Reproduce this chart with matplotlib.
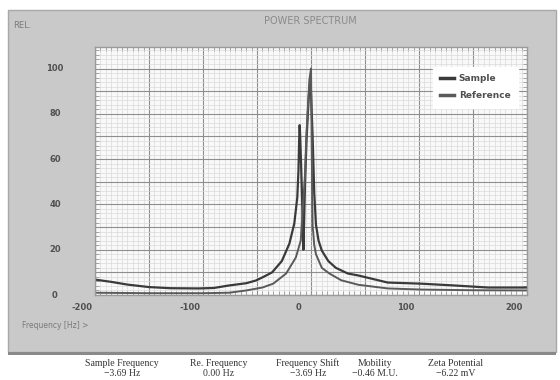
import matplotlib
matplotlib.use("Agg")
import matplotlib.pyplot as plt
from matplotlib.patches import Rectangle
from matplotlib.transforms import ScaledTranslation, blended_transform_factory
import numpy as np

# ---- data ----
sample_freq = [-200, -185, -170, -150, -130, -104, -90, -76, -60, -51, -44, -36, -27, -20,
               -15.5, -12.7, -11.6, -11, -10.5, -10, -9, -8, -7, -5.5, -4, -2, -0.5, 1.5,
               3, 4.6, 7, 10, 16, 23, 34, 44, 71, 102, 133, 164, 200]
sample_power = [6.8, 5.8, 4.6, 3.5, 3.0, 2.9, 3.1, 4.2, 5.2, 6.4, 8.0, 10, 15, 22.7,
                31.5, 43, 55, 68, 75, 70, 55, 38, 20, 50, 70, 88, 96, 70,
                45, 31, 24, 19.6, 15, 12, 9.5, 8.6, 5.5, 5.0, 4.2, 3.3, 3.3]

ref_freq = [-200, -150, -100, -76, -60, -45, -35, -23, -14, -9.5, -7.5, -5.5, -4.5, -3,
            -1.5, 0, 1, 1.5, 3, 4.6, 10, 17, 28, 44, 71, 102, 150, 200]
ref_power = [1.0, 0.8, 0.8, 1.0, 2.0, 3.3, 5.0, 9.5, 16.6, 24, 38.6, 53.6, 68, 82,
             95, 100, 50, 31, 22, 18, 12, 9.5, 6.5, 4.5, 2.9, 2.4, 2.1, 2.0]

series_names = ["Sample", "Reference"]
x_ticks = [-200, -100, 0, 100, 200]
y_ticks = [0, 20, 40, 60, 80, 100]

stat_labels = ["Sample Frequency", "Re. Frequency", "Frequency Shift", "Mobility", "Zeta Potential"]
stat_values = ["\u22123.69 Hz", "0.00 Hz", "\u22123.69 Hz", "\u22120.46 M.U.", "\u22126.22 mV"]

# ---- figure ----
W, H, DPI = 560, 380, 100
fig = plt.figure(figsize=(W / DPI, H / DPI), dpi=DPI)
fig.patch.set_facecolor("white")

def fx(px):
    return px / W

def fy(py):
    return 1 - py / H

# grey instrument panel
fig.patches.append(Rectangle((fx(8), fy(352)), fx(548), 342 / H, transform=fig.transFigure,
                             facecolor="#c9c9c9", edgecolor="#a8a8a8", lw=1.0, zorder=-2))
fig.patches.append(Rectangle((fx(8), fy(355)), fx(548), 3 / H, transform=fig.transFigure,
                             facecolor="#8a8a8a", edgecolor="none", zorder=-2))

ax = fig.add_axes([fx(95), fy(295), fx(432), 248 / H])
ax.set_zorder(1)
ax.set_facecolor("#f9f9f9")
ax.set_xlim(-200, 200)
ax.set_ylim(0, 109.5)

ax.set_xticks(np.arange(-200, 201, 50))
ax.set_yticks(np.arange(0, 110, 10))
ax.set_xticks(np.arange(-200, 201, 5), minor=True)
ax.set_yticks(np.arange(0, 110, 2), minor=True)
ax.grid(which="minor", color="#dadada", lw=0.5)
ax.grid(which="major", color="#8e8e8e", lw=0.8)
ax.set_axisbelow(True)
ax.tick_params(which="both", direction="in", top=True, right=True, labelbottom=False,
               labelleft=False, color="#9a9a9a")
ax.tick_params(which="major", length=0)
ax.tick_params(which="minor", length=3, width=0.6)
for s in ax.spines.values():
    s.set_color("#9a9a9a")
    s.set_linewidth(1.0)

l1, = ax.plot(sample_freq, sample_power, color="#3a3a3a", lw=1.6, label=series_names[0])
l2, = ax.plot(ref_freq, ref_power, color="#5a5a5a", lw=1.4, label=series_names[1])

leg = ax.legend(loc="upper right", bbox_to_anchor=(0.985, 0.93), frameon=True, fancybox=False,
                facecolor="white", edgecolor="white", framealpha=1,
                prop={"size": 6.5, "weight": "bold"}, handlelength=1.6, handletextpad=0.5,
                labelspacing=0.9, borderpad=0.8, borderaxespad=0.3)
for t in leg.get_texts():
    t.set_color("#505050")
for h in leg.get_lines():
    h.set_linewidth(2.5)

tick_kw = dict(fontsize=6, fontweight="bold", color="#505050")
# x tick labels (drawn slightly left of their gridlines, as in the original)
xtr = blended_transform_factory(ax.transData, ax.transAxes) + ScaledTranslation(-13 / DPI, 0, fig.dpi_scale_trans)
for v in x_ticks:
    ax.text(v, -12 / 248, f"{v}", transform=xtr, ha="center", va="center", clip_on=False, **tick_kw)
ytr = blended_transform_factory(ax.transAxes, ax.transData)
for v in y_ticks:
    ax.text(-40 / 432, v, f"{v}", transform=ytr, ha="center", va="center", clip_on=False, **tick_kw)

fig.text(fx(13), fy(25), "REL.", fontsize=6, color="#7a7a7a", ha="left", va="center")
fig.text(fx(310), fy(21), "POWER SPECTRUM", fontsize=7, color="#8a8a8a", ha="center", va="center")
fig.text(fx(22), fy(326), "Frequency [Hz] >", fontsize=5.5, color="#7a7a7a", ha="left", va="center")

stat_x = [122, 219, 308, 375, 456]
for x, lab, val in zip(stat_x, stat_labels, stat_values):
    fig.text(fx(x), fy(363), lab, fontsize=7, family="Liberation Serif", color="#333333",
             ha="center", va="center")
    fig.text(fx(x), fy(374), val, fontsize=7, family="Liberation Serif", color="#333333",
             ha="center", va="center")

fig.savefig("out.png", dpi=DPI)
